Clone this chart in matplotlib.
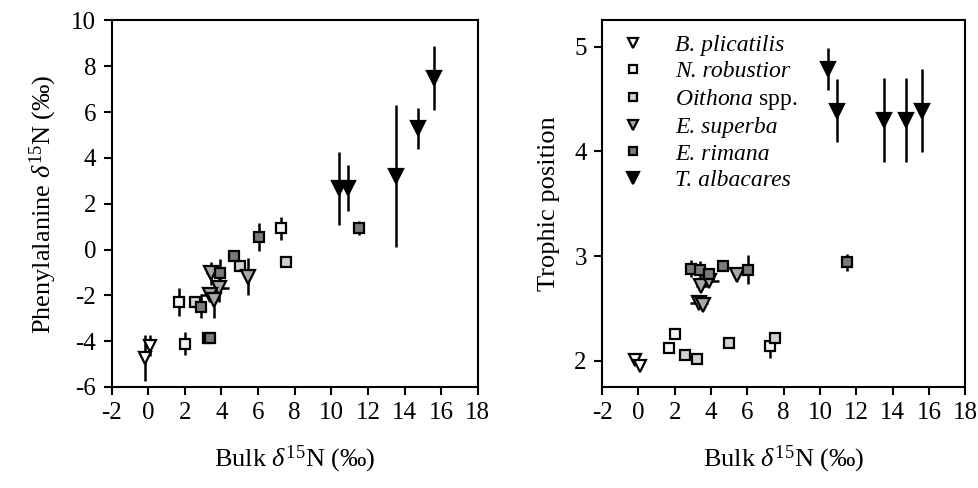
import numpy as np
import matplotlib
matplotlib.use("Agg")
import matplotlib.pyplot as plt

plt.rcParams['font.family'] = ['Liberation Serif', 'DejaVu Serif']
plt.rcParams['mathtext.fontset'] = 'custom'
plt.rcParams['mathtext.rm'] = 'Liberation Serif'
plt.rcParams['mathtext.it'] = 'Liberation Serif:italic'
plt.rcParams['axes.unicode_minus'] = False

# bulk d15N (x), phenylalanine d15N (left), trophic position (right)
bp_bulk = [-0.2, 0.1]
bp_phe = [-4.74, -4.19]
bp_phe_err = [1.0, 0.45]
bp_tp = [2.01, 1.95]
bp_tp_err = [0.0, 0.0]

nr_bulk = [1.70, 2.00, 7.24]
nr_phe = [-2.30, -4.12, 0.93]
nr_phe_err = [0.6, 0.5, 0.5]
nr_tp = [2.12, 2.26, 2.14]
nr_tp_err = [0.03, 0.03, 0.11]

oi_bulk = [2.58, 3.25, 5.00, 7.53]
oi_phe = [-2.30, -3.85, -0.71, -0.55]
oi_phe_err = [0.1, 0.1, 0.1, 0.2]
oi_tp = [2.06, 2.02, 2.17, 2.22]
oi_tp_err = [0.02, 0.02, 0.05, 0.03]

es_bulk = [3.45, 3.88, 3.35, 3.58, 5.45]
es_xerr = [0.3, 0.55, 0.5, 0.0, 0.0]
es_phe = [-1.03, -1.69, -2.00, -2.20, -1.18]
es_phe_err = [0.5, 0.6, 0.3, 0.8, 0.8]
es_tp = [2.71, 2.76, 2.55, 2.53, 2.82]
es_tp_err = [0.03, 0.03, 0.02, 0.02, 0.03]

er_bulk = [2.90, 3.38, 3.91, 4.68, 6.04, 11.50]
er_xerr = [0.0, 0.0, 0.0, 0.0, 0.25, 0.0]
er_phe = [-2.50, -3.85, -1.03, -0.26, 0.54, 0.93]
er_phe_err = [0.5, 0.1, 0.6, 0.1, 0.6, 0.3]
er_tp = [2.88, 2.87, 2.83, 2.91, 2.87, 2.94]
er_tp_err = [0.08, 0.08, 0.06, 0.03, 0.14, 0.08]

ta_bulk = [10.42, 10.93, 13.51, 14.74, 15.62]
ta_phe = [2.68, 2.68, 3.19, 5.30, 7.48]
ta_phe_err = [1.6, 1.0, 3.1, 0.9, 1.4]
ta_tp = [4.79, 4.39, 4.30, 4.30, 4.39]
ta_tp_err = [0.2, 0.3, 0.4, 0.4, 0.4]

species = [
    ('B. plicatilis', bp_bulk, None, bp_phe, bp_phe_err, bp_tp, bp_tp_err, 'v', 'white', 9),
    ('N. robustior', nr_bulk, None, nr_phe, nr_phe_err, nr_tp, nr_tp_err, 's', '#f4f4f4', 7.5),
    (r'Oithona $\mathrm{spp.}$', oi_bulk, None, oi_phe, oi_phe_err, oi_tp, oi_tp_err, 's', '#d2d2d2', 7.5),
    ('E. superba', es_bulk, es_xerr, es_phe, es_phe_err, es_tp, es_tp_err, 'v', '#a8a8a8', 9.5),
    ('E. rimana', er_bulk, er_xerr, er_phe, er_phe_err, er_tp, er_tp_err, 's', '#7a7a7a', 7.5),
    ('T. albacares', ta_bulk, None, ta_phe, ta_phe_err, ta_tp, ta_tp_err, 'v', 'black', 10),
]

fig = plt.figure(figsize=(9.79, 4.88), dpi=100)
ax1 = fig.add_axes([0.114, 0.207, 0.374, 0.751])
ax2 = fig.add_axes([0.615, 0.207, 0.371, 0.751])

handles = []
for name, bulk, xerr, phe, phe_err, tp, tp_err, mk, fc, ms in species:
    for ax, yv, ye in ((ax1, phe, phe_err), (ax2, tp, tp_err)):
        ax.errorbar(bulk, yv, yerr=ye, xerr=xerr, fmt='none', ecolor='black',
                    elinewidth=1.8, capsize=0, zorder=2)
        h, = ax.plot(bulk, yv, linestyle='none', marker=mk, markersize=ms,
                     markerfacecolor=fc, markeredgecolor='black',
                     markeredgewidth=1.6, zorder=3, label=name)
    handles.append(h)

for ax in (ax1, ax2):
    ax.set_xlim(-2, 18)
    ax.set_xticks(np.arange(-2, 19, 2))
    ax.tick_params(direction='out', length=6, width=1.5, labelsize=18,
                   top=False, right=False, pad=5)
    for s in ax.spines.values():
        s.set_linewidth(1.5)
    ax.set_xlabel(r'Bulk $\delta^{15}$N (‰)', fontsize=19, labelpad=14)

ax1.set_ylim(-6, 10)
ax1.set_yticks(np.arange(-6, 11, 2))
ax1.set_ylabel(r'Phenylalanine $\delta^{15}$N (‰)', fontsize=19, labelpad=9)

ax2.set_ylim(1.75, 5.25)
ax2.set_yticks([2, 3, 4, 5])
ax2.set_ylabel('Trophic position', fontsize=19, labelpad=10)

ax2.legend(handles=handles, loc='upper left', frameon=False,
           prop={'size': 17, 'style': 'italic'},
           markerscale=0.8, handletextpad=1.1, labelspacing=0.2,
           borderaxespad=0.2, handlelength=1.4, borderpad=0.4)

fig.savefig('out.png', dpi=100)
